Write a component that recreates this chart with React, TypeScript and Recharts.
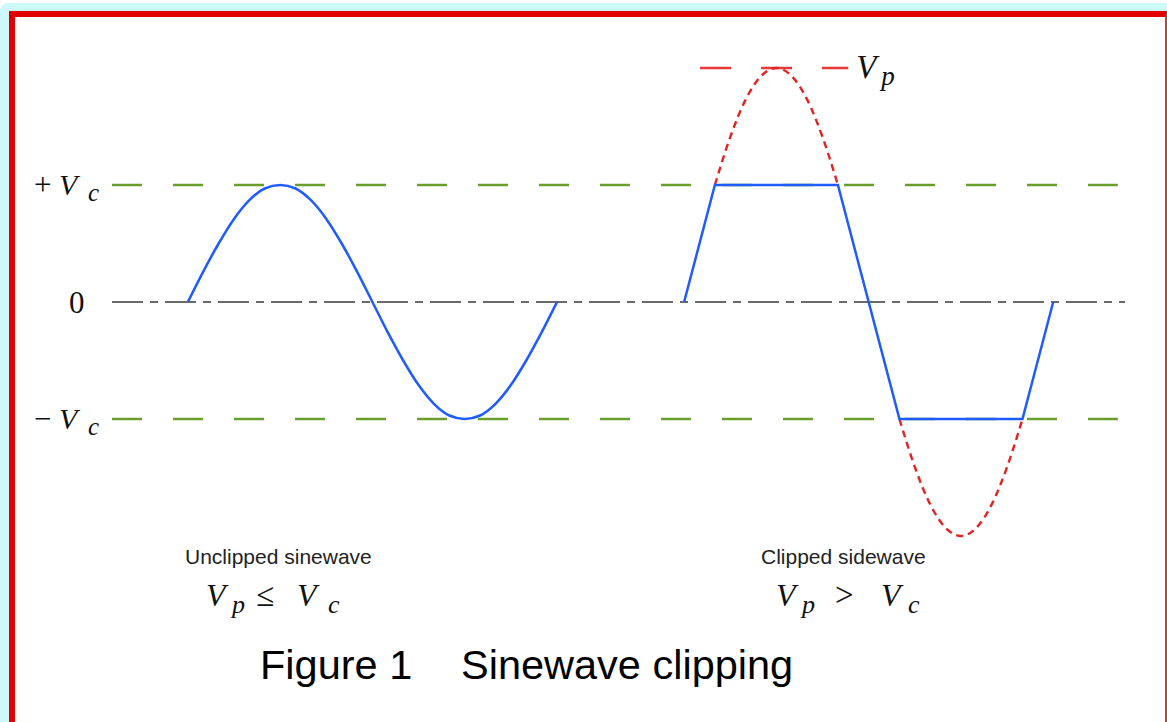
import React from 'react';
import { LineChart, Line, XAxis, YAxis, ReferenceLine } from 'recharts';

// phase in degrees (x), voltage in units of Vc (y)
const unclippedX = [0, 15, 30, 45, 60, 75, 90, 105, 120, 135, 150, 165, 180, 195, 210, 225, 240, 255, 270, 285, 300, 315, 330, 345, 360];
const unclippedV = [0, 0.26, 0.5, 0.71, 0.87, 0.97, 1, 0.97, 0.87, 0.71, 0.5, 0.26, 0, -0.26, -0.5, -0.71, -0.87, -0.97, -1, -0.97, -0.87, -0.71, -0.5, -0.26, 0];

const clippedX = [484, 514, 634, 694, 814, 844];
const clippedV = [0, 1, 1, -1, -1, 0];

const upperLostX = [514, 529, 544, 559, 574, 589, 604, 619, 634];
const upperLostV = [1, 1.41, 1.73, 1.93, 2, 1.93, 1.73, 1.41, 1];
const lowerLostX = [694, 709, 724, 739, 754, 769, 784, 799, 814];
const lowerLostV = [-1, -1.41, -1.73, -1.93, -2, -1.93, -1.73, -1.41, -1];

const yTicks = [1, 0, -1];
const Vc = 1;
const Vp = 2;
const xDomain = [-74, 914];
const clipLineX = [-74, 907];
const vpLineX = [499.5, 644];

const zip = (xs: number[], ys: number[]) => xs.map((x, i) => ({ x, y: ys[i] }));
const unclippedData = zip(unclippedX, unclippedV);
const clippedData = zip(clippedX, clippedV);
const upperLostData = zip(upperLostX, upperLostV);
const lowerLostData = zip(lowerLostX, lowerLostV);

const SERIF = '"Liberation Serif", "Times New Roman", serif';
const SANS = '"Liberation Sans", Arial, Helvetica, sans-serif';

const YTick = (props: any) => {
  const { y, payload } = props;
  const v = payload.value;
  if (v === 0) {
    return (
      <text x={69} y={y + 11} fontFamily={SERIF} fontSize={31} fill="#111">0</text>
    );
  }
  return (
    <g fill="#111" fontFamily={SERIF}>
      <text x={34} y={y + 10} fontSize={31}>{v > 0 ? '+' : '−'}</text>
      <text x={59} y={y + 10} fontSize={30} fontStyle="italic">V</text>
      <text x={88} y={y + 16} fontSize={25} fontStyle="italic">c</text>
    </g>
  );
};

const VpLabel = (props: any) => {
  const vb = props.viewBox || {};
  const x0 = (vb.x || 0) + (vb.width || 0);
  const y0 = vb.y || 0;
  return (
    <g fill="#111" fontFamily={SERIF} fontStyle="italic">
      <text x={x0 + 8} y={y0 + 10} fontSize={33}>V</text>
      <text x={x0 + 33} y={y0 + 17} fontSize={27}>p</text>
    </g>
  );
};

export default function App() {
  return (
    <div style={{ position: 'absolute', left: 0, top: 0, width: 1167, height: 722, overflow: 'hidden', background: '#fff' }}>
      <div style={{ position: 'absolute', left: 0, top: 3, width: 1220, height: 800, background: '#ccf8f8', borderRadius: 8 }} />
      <div style={{ position: 'absolute', left: 9, top: 11, width: 1158, height: 800, boxSizing: 'border-box', background: '#fff', borderLeft: '6px solid #e00000', borderTop: '6px solid #e00000', borderRight: '2px solid #e83030' }} />
      <div style={{ position: 'absolute', left: 0, top: 0 }}>
        <LineChart width={1167} height={722} margin={{ top: 68, right: 42, bottom: 186, left: 0 }}>
          <XAxis dataKey="x" type="number" domain={xDomain} allowDataOverflow hide />
          <YAxis type="number" domain={[-Vp, Vp]} ticks={yTicks} width={112} axisLine={false} tickLine={false} tick={<YTick />} interval={0} />
          <ReferenceLine segment={[{ x: clipLineX[0], y: Vc }, { x: clipLineX[1], y: Vc }]} stroke="#6a9e2c" strokeWidth={2.5} strokeDasharray="30 31" />
          <ReferenceLine segment={[{ x: clipLineX[0], y: -Vc }, { x: clipLineX[1], y: -Vc }]} stroke="#6a9e2c" strokeWidth={2.5} strokeDasharray="30 31" />
          <ReferenceLine segment={[{ x: xDomain[0], y: 0 }, { x: xDomain[1], y: 0 }]} stroke="#3a3a3a" strokeWidth={1.7} strokeDasharray="31 7 8 7" />
          <ReferenceLine segment={[{ x: vpLineX[0], y: Vp }, { x: vpLineX[1], y: Vp }]} stroke="#e83838" strokeWidth={2.6} strokeDasharray="31 30" label={<VpLabel />} />
          <Line data={upperLostData} dataKey="y" type="monotone" stroke="#e32222" strokeWidth={2.4} strokeDasharray="7 5" dot={false} isAnimationActive={false} />
          <Line data={lowerLostData} dataKey="y" type="monotone" stroke="#e32222" strokeWidth={2.4} strokeDasharray="7 5" dot={false} isAnimationActive={false} />
          <Line data={unclippedData} dataKey="y" type="monotone" stroke="#1f5cff" strokeWidth={2.5} dot={false} isAnimationActive={false} />
          <Line data={clippedData} dataKey="y" type="linear" stroke="#1f5cff" strokeWidth={2.5} dot={false} isAnimationActive={false} />
        </LineChart>
      </div>
      <svg width={1167} height={722} style={{ position: 'absolute', left: 0, top: 0, pointerEvents: 'none' }}>
        <g fontFamily={SANS} fontSize={21} fill="#222">
          <text x={185} y={564}>Unclipped sinewave</text>
          <text x={761} y={564}>Clipped sidewave</text>
        </g>
        <g fontFamily={SERIF} fill="#111">
          <text x={206} y={606} fontSize={32} fontStyle="italic">V</text>
          <text x={232} y={613} fontSize={26} fontStyle="italic">p</text>
          <text x={256} y={606} fontSize={33}>≤</text>
          <text x={297} y={606} fontSize={32} fontStyle="italic">V</text>
          <text x={328} y={613} fontSize={26} fontStyle="italic">c</text>
          <text x={776} y={606} fontSize={32} fontStyle="italic">V</text>
          <text x={802} y={613} fontSize={26} fontStyle="italic">p</text>
          <text x={835} y={606} fontSize={33}>&gt;</text>
          <text x={881} y={606} fontSize={32} fontStyle="italic">V</text>
          <text x={908} y={613} fontSize={26} fontStyle="italic">c</text>
        </g>
        <g fontFamily={SANS} fontSize={41.5} fill="#000">
          <text x={260} y={679}>Figure 1</text>
          <text x={461} y={679}>Sinewave clipping</text>
        </g>
      </svg>
    </div>
  );
}
